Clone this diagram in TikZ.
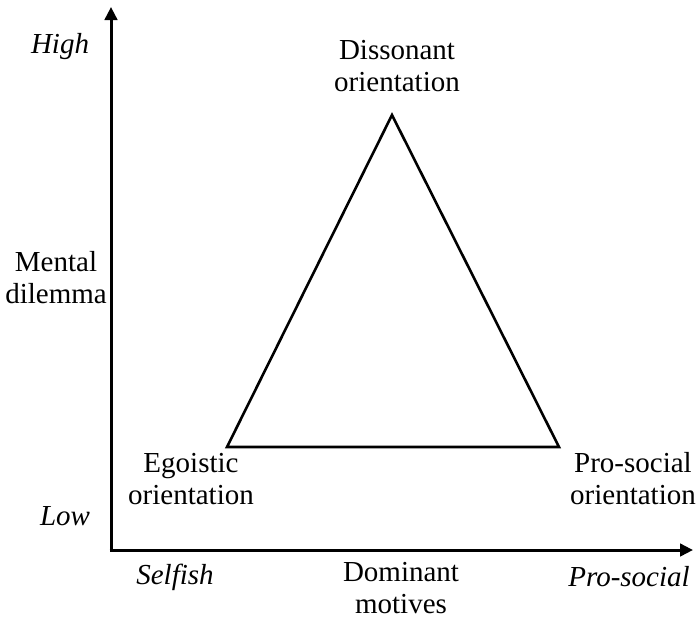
\documentclass[tikz,border=0pt]{standalone}
\usepackage{fontspec}
\setmainfont{Liberation Serif}
\usetikzlibrary{arrows.meta}
\begin{document}
\begin{tikzpicture}[x=1pt,y=-1pt,
  lbl/.style={align=center,font=\fontsize{29}{32}\selectfont,inner sep=0pt},
  axis/.style={line width=3pt,-{Triangle[length=13pt,width=12.5pt]}},
  tri/.style={line width=2.6pt,line join=miter}]
\useasboundingbox (0,0) rectangle (697,622);
% axes
\coordinate (o) at (111,550);
\coordinate (ytop) at (111,7);
\coordinate (xend) at (693,550);
\draw[axis] ([yshift=1.5pt]o) -- (ytop);
\draw[axis] ([xshift=-1.5pt]o) -- (xend);
% triangle
\coordinate (apex) at (392,115);
\coordinate (left) at (227,447);
\coordinate (right) at (559,447);
\draw[tri] (apex) -- (left) -- (right) -- cycle;
% axis labels
\node[lbl] (high) at (60,47) {\itshape High};
\node[lbl] (dilemma) at (56,278) {Mental\\dilemma};
\node[lbl] (low) at (65,516) {\itshape Low};
\node[lbl] (selfish) at (175,577) {\itshape Selfish};
\node[lbl] (motives) at (401,588) {Dominant\\motives};
\node[lbl] (prosocial) at (629,577) {\itshape Pro-social};
% vertex labels
\node[lbl] (dis) at (397,66) {Dissonant\\orientation};
\node[lbl] (ego) at (191,479) {Egoistic\\orientation};
\node[lbl] (pro) at (633,479) {Pro-social\\orientation};
\end{tikzpicture}
\end{document}
